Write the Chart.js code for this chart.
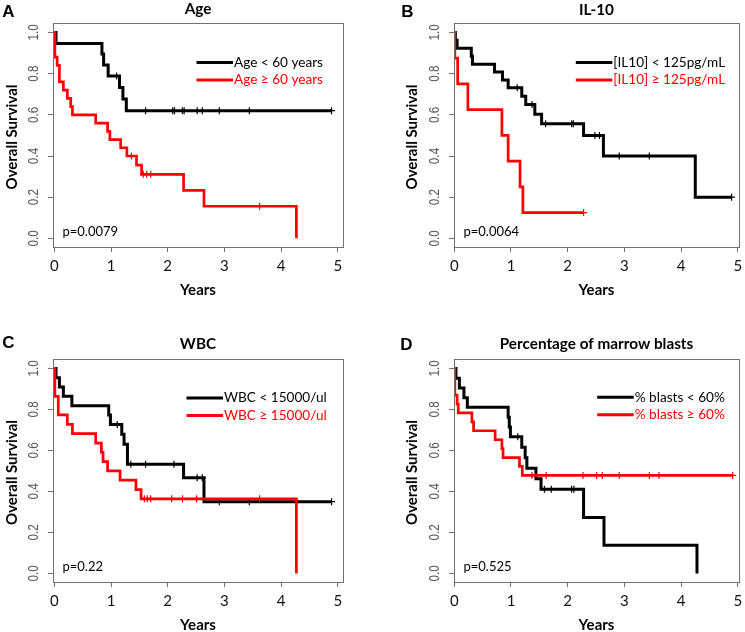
<!DOCTYPE html>
<html>
<head>
<meta charset="utf-8">
<script src="https://cdn.jsdelivr.net/npm/chart.js@4.4.1/dist/chart.umd.min.js"></script>
<style>
  body { margin: 0; background: #fff; }
  #wrap { position: relative; width: 745px; height: 632px; overflow: hidden; background: #fff; }
  canvas { position: absolute; }
</style>
</head>
<body>
<div id="wrap">
  <canvas id="chartA" width="372" height="316" style="left:0;top:0"></canvas>
  <canvas id="chartB" width="373" height="316" style="left:372px;top:0"></canvas>
  <canvas id="chartC" width="372" height="316" style="left:0;top:316px"></canvas>
  <canvas id="chartD" width="373" height="316" style="left:372px;top:316px"></canvas>
</div>
<script>
// axis ticks
var xTicks = [0, 1, 2, 3, 4, 5];
var yTicks = [0, 0.2, 0.4, 0.6, 0.8, 1.0];
var yTickLabels = ['0.0', '0.2', '0.4', '0.6', '0.8', '1.0'];

// A - Age
var ageLowTimes = [0, 0.03, 0.84, 0.87, 0.95, 1.15, 1.21, 1.27, 4.89];
var ageLowSurv = [1, 0.947, 0.895, 0.842, 0.789, 0.733, 0.677, 0.620, 0.620];
var ageLowCensor = [1.10, 1.61, 2.09, 2.12, 2.26, 2.29, 2.52, 2.61, 2.91, 3.44, 4.89];
var ageHighTimes = [0, 0.01, 0.05, 0.09, 0.16, 0.23, 0.29, 0.32, 0.73, 0.94, 0.98, 1.17, 1.28, 1.45, 1.54, 2.28, 2.64, 4.27];
var ageHighSurv = [1, 0.88, 0.84, 0.76, 0.72, 0.68, 0.64, 0.60, 0.56, 0.52, 0.48, 0.44, 0.40, 0.356, 0.311, 0.233, 0.156, 0];
var ageHighCensor = [1.36, 1.57, 1.63, 1.70, 3.62];

// B - IL-10
var il10LowTimes = [0, 0.02, 0.05, 0.30, 0.32, 0.71, 0.85, 0.95, 1.19, 1.26, 1.42, 1.54, 2.28, 2.63, 4.25, 4.89];
var il10LowSurv = [1, 0.962, 0.923, 0.885, 0.846, 0.808, 0.769, 0.731, 0.690, 0.650, 0.603, 0.557, 0.50, 0.40, 0.20, 0.20];
var il10LowCensor = [1.11, 1.37, 1.61, 2.07, 2.10, 2.48, 2.56, 2.91, 3.44, 4.89];
var il10HighTimes = [0, 0.01, 0.06, 0.24, 0.84, 0.95, 1.16, 1.21, 2.28];
var il10HighSurv = [1, 0.875, 0.75, 0.625, 0.5, 0.375, 0.25, 0.125, 0.125];
var il10HighCensor = [2.28];

// C - WBC
var wbcLowTimes = [0, 0.03, 0.09, 0.16, 0.31, 0.96, 0.99, 1.19, 1.23, 1.29, 2.28, 2.64, 4.89];
var wbcLowSurv = [1, 0.955, 0.909, 0.864, 0.818, 0.773, 0.727, 0.679, 0.630, 0.533, 0.467, 0.35, 0.35];
var wbcLowCensor = [1.11, 1.35, 1.61, 2.11, 2.52, 2.61, 2.91, 3.44, 4.89];
var wbcHighTimes = [0, 0.01, 0.07, 0.23, 0.32, 0.73, 0.83, 0.86, 0.94, 1.16, 1.44, 1.53, 4.27];
var wbcHighSurv = [1, 0.864, 0.773, 0.727, 0.682, 0.636, 0.591, 0.545, 0.50, 0.455, 0.409, 0.364, 0];
var wbcHighCensor = [1.59, 1.64, 1.70, 2.07, 2.26, 2.51, 3.62];

// D - marrow blasts
var blastLowTimes = [0, 0.03, 0.09, 0.17, 0.23, 0.95, 0.97, 0.99, 1.19, 1.25, 1.28, 1.44, 1.53, 2.28, 2.64, 4.28];
var blastLowSurv = [1, 0.952, 0.905, 0.857, 0.810, 0.762, 0.714, 0.667, 0.615, 0.564, 0.513, 0.462, 0.410, 0.273, 0.137, 0];
var blastLowCensor = [1.12, 1.59, 1.71, 2.07, 2.11];
var blastHighTimes = [0, 0.01, 0.05, 0.07, 0.31, 0.34, 0.72, 0.84, 0.86, 1.15, 1.20, 4.91];
var blastHighSurv = [1, 0.870, 0.826, 0.783, 0.739, 0.696, 0.652, 0.609, 0.565, 0.522, 0.478, 0.478];
var blastHighCensor = [1.37, 1.62, 2.27, 2.51, 2.61, 2.91, 3.44, 3.61, 4.91];

var RED = '#ff0000';
var BLACK = '#000000';

function survAt(times, surv, t) {
    var s = surv[0];
    for (var i = 0; i < times.length; i++) {
        if (times[i] <= t) s = surv[i];
    }
    return s;
}

function stepLine(times, surv, color, width) {
    return {
        data: times.map(function (t, i) { return { x: t, y: surv[i] }; }),
        borderColor: color,
        borderWidth: width,
        stepped: 'before',
        pointRadius: 0,
        fill: false
    };
}

function censorMarks(times, surv, cens, color) {
    return {
        data: cens.map(function (t) { return { x: t, y: survAt(times, surv, t) }; }),
        showLine: false,
        pointStyle: 'cross',
        pointRadius: 3.5,
        pointBorderWidth: 1.2,
        pointBorderColor: color,
        borderColor: color
    };
}

// draws the box, rotated y labels, titles, legend and p-value
var decor = {
    id: 'decor',
    afterDraw: function (chart) {
        var p = chart.options.plugins.decor;
        var ctx = chart.ctx, a = chart.chartArea;
        var xs = chart.scales.x, ys = chart.scales.y;
        ctx.save();
        ctx.strokeStyle = '#707070';
        ctx.lineWidth = 1;
        ctx.strokeRect(a.left + 0.5, a.top + 0.5, a.right - a.left, a.bottom - a.top);

        // y tick labels, rotated like R (narrow, tall glyphs)
        ctx.fillStyle = '#555';
        ctx.font = '15px "Liberation Sans"';
        ctx.textAlign = 'center';
        ctx.textBaseline = 'middle';
        yTicks.forEach(function (v, i) {
            ctx.save();
            ctx.translate(a.left - 19.5, ys.getPixelForValue(v));
            ctx.rotate(-Math.PI / 2);
            ctx.scale(0.78, 1);
            ctx.fillText(yTickLabels[i], 0, 0);
            ctx.restore();
        });

        // x tick labels
        ctx.fillStyle = '#111';
        ctx.font = '15px Lato';
        xTicks.forEach(function (v) {
            ctx.fillText(String(v), xs.getPixelForValue(v), a.bottom + 19.5);
        });

        // axis titles
        ctx.font = 'bold 15px Lato';
        ctx.fillStyle = '#000';
        ctx.fillText('Years', (a.left + a.right) / 2, a.bottom + 43.5);
        ctx.save();
        ctx.translate(p.ylabX, (a.top + a.bottom) / 2 + 2);
        ctx.rotate(-Math.PI / 2);
        ctx.fillText('Overall Survival', 0, 0);
        ctx.restore();

        // panel title and letter
        ctx.textBaseline = 'alphabetic';
        ctx.font = 'bold 15.3px Lato';
        ctx.fillText(p.title, (a.left + a.right) / 2, p.titleY);
        ctx.font = 'bold 17px "Liberation Sans"';
        ctx.textBaseline = 'middle';
        ctx.fillText(p.letter, p.letterX, p.letterY);

        // legend
        ctx.textAlign = 'left';
        ctx.font = '13.6px Lato';
        var cols = [BLACK, RED];
        p.labels.forEach(function (lab, i) {
            var y = a.top + p.legY + i * 17.5;
            ctx.strokeStyle = cols[i];
            ctx.lineWidth = 3;
            ctx.beginPath();
            ctx.moveTo(p.legX - 37.5, y);
            ctx.lineTo(p.legX - 1, y);
            ctx.stroke();
            ctx.fillStyle = cols[i];
            ctx.fillText(lab, p.legX, y);
        });

        // p-value
        ctx.fillStyle = '#000';
        ctx.font = '13px Lato';
        ctx.fillText(p.pval, a.left + 9.5, a.bottom - 15);
        ctx.restore();
    }
};

function makePanel(id, cfg) {
    var low = cfg.low, high = cfg.high;
    new Chart(document.getElementById(id), {
        type: 'line',
        data: {
            datasets: [
                stepLine(high[0], high[1], RED, 2.7),
                censorMarks(high[0], high[1], high[2], RED),
                stepLine(low[0], low[1], BLACK, 3),
                censorMarks(low[0], low[1], low[2], BLACK)
            ]
        },
        options: {
            responsive: false,
            animation: false,
            events: [],
            layout: { padding: { top: cfg.top, right: cfg.right, left: 0, bottom: 0 } },
            plugins: {
                legend: { display: false },
                tooltip: { enabled: false },
                decor: cfg.decor
            },
            scales: {
                x: {
                    type: 'linear',
                    min: cfg.xMin,
                    max: cfg.xMax,
                    afterBuildTicks: function (s) { s.ticks = xTicks.map(function (v) { return { value: v }; }); },
                    afterFit: function (s) { s.height = cfg.bottom; },
                    ticks: { display: false },
                    grid: { drawOnChartArea: false, tickLength: 5, color: '#707070' },
                    border: { display: false }
                },
                y: {
                    type: 'linear',
                    min: -0.042,
                    max: 1.046,
                    afterBuildTicks: function (s) { s.ticks = yTicks.map(function (v) { return { value: v }; }); },
                    afterFit: function (s) { s.width = cfg.left; },
                    ticks: { display: false },
                    grid: { drawOnChartArea: false, tickLength: 5, color: '#707070' },
                    border: { display: false }
                }
            }
        },
        plugins: [decor]
    });
}

makePanel('chartA', {
    low: [ageLowTimes, ageLowSurv, ageLowCensor],
    high: [ageHighTimes, ageHighSurv, ageHighCensor],
    top: 23, right: 29, bottom: 69, left: 53, xMin: -0.023, xMax: 5.092,
    decor: { letter: 'A', letterX: 8.5, letterY: 12.8, title: 'Age', titleY: 14, ylabX: 12.5,
        labels: ['Age < 60 years', 'Age \u2265 60 years'], legX: 234, legY: 39.5, pval: 'p=0.0079' }
});

makePanel('chartB', {
    low: [il10LowTimes, il10LowSurv, il10LowCensor],
    high: [il10HighTimes, il10HighSurv, il10HighCensor],
    top: 23, right: 6, bottom: 69, left: 82, xMin: -0.005, xMax: 5.021,
    decor: { letter: 'B', letterX: 35.5, letterY: 12.5, title: 'IL-10', titleY: 14.5, ylabX: 40,
        labels: ['[IL10] < 125pg/mL', '[IL10] \u2265 125pg/mL'], legX: 241.3, legY: 39.5, pval: 'p=0.0064' }
});

makePanel('chartC', {
    low: [wbcLowTimes, wbcLowSurv, wbcLowCensor],
    high: [wbcHighTimes, wbcHighSurv, wbcHighCensor],
    top: 43, right: 29, bottom: 50, left: 53, xMin: -0.023, xMax: 5.092,
    decor: { letter: 'C', letterX: 8.5, letterY: 27.5, title: 'WBC', titleY: 33.3, ylabX: 12.5,
        labels: ['WBC < 15000/ul', 'WBC \u2265 15000/ul'], legX: 224, legY: 39, pval: 'p=0.22' }
});

makePanel('chartD', {
    low: [blastLowTimes, blastLowSurv, blastLowCensor],
    high: [blastHighTimes, blastHighSurv, blastHighCensor],
    top: 43, right: 6, bottom: 50, left: 82, xMin: -0.005, xMax: 5.021,
    decor: { letter: 'D', letterX: 34.5, letterY: 29, title: 'Percentage of marrow blasts', titleY: 32.7, ylabX: 40,
        labels: ['% blasts < 60%', '% blasts \u2265 60%'], legX: 262.7, legY: 38.3, pval: 'p=0.525' }
});
</script>
</body>
</html>
